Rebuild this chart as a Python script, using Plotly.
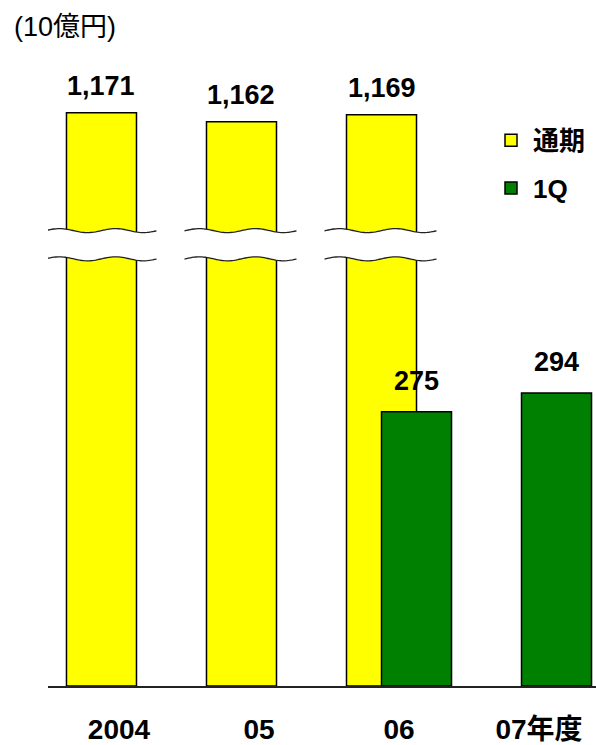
import numpy as np
import plotly.graph_objects as go

# ---- data ----
categories = ["2004", "05", "06", "07年度"]
cat_pos = [0, 1, 2, 3]
full_year = [1171, 1162, 1169, None]   # 通期 (10億円)
q1 = [None, None, 275, 294]            # 1Q (10億円)
series_names = ["通期", "1Q"]
unit_label = "(10億円)"

# ---- style / layout constants ----
YELLOW = "#FFFF00"
GREEN = "#008000"
BAR_W = 0.5
Y_OFF = -0.375
G_OFF = -0.125
FONT = "Liberation Sans, Arial, Noto Sans CJK JP, sans-serif"

W, H = 596, 745
ML, MR, MT, MB = 48, 0, 40, 57
PH = H - MT - MB  # plot height in px
BASE_PX = H - MB  # baseline pixel row


def paper_y(py):
    return (BASE_PX - py) / PH


# broken axis: lower part & upper part
low_top_px = 254
up_bot_px = 235
LOW_RANGE = [0, BASE_PX - low_top_px]
UP_START = 1049
UP_RANGE = [UP_START, UP_START + (up_bot_px - MT)]

fig = go.Figure()

yx = [c for c, v in zip(cat_pos, full_year) if v is not None]
yv = [v for v in full_year if v is not None]
gx = [c for c, v in zip(cat_pos, q1) if v is not None]
gv = [v for v in q1 if v is not None]

# yellow bars - lower part
fig.add_trace(go.Bar(x=yx, y=yv, width=BAR_W, offset=Y_OFF, xaxis="x", yaxis="y",
                     marker=dict(color=YELLOW, line=dict(color="black", width=1.5)),
                     name=series_names[0], legendgroup="a", showlegend=True,
                     hoverinfo="skip"))
# yellow bars - upper part
fig.add_trace(go.Bar(x=yx, y=yv, width=BAR_W, offset=Y_OFF, xaxis="x", yaxis="y2",
                     marker=dict(color=YELLOW, line=dict(color="black", width=1.5)),
                     name=series_names[0], legendgroup="a", showlegend=False,
                     hoverinfo="skip"))
# green bars
fig.add_trace(go.Bar(x=gx, y=gv, width=BAR_W, offset=G_OFF, xaxis="x", yaxis="y",
                     marker=dict(color=GREEN, line=dict(color="black", width=1.5)),
                     name=series_names[1], legendgroup="b", showlegend=True,
                     hoverinfo="skip"))

# value labels
annotations = []
for c, v in zip(yx, yv):
    annotations.append(dict(x=c + Y_OFF + BAR_W / 2, y=v, xref="x", yref="y2",
                            text=f"{v:,}", showarrow=False, yanchor="bottom",
                            yshift=10, font=dict(size=27, color="black", family=FONT,
                                                weight="bold")))
for c, v in zip(gx, gv):
    annotations.append(dict(x=c + G_OFF + BAR_W / 2, y=v, xref="x", yref="y",
                            text=f"{v:,}", showarrow=False, yanchor="bottom",
                            yshift=14, font=dict(size=27, color="black", family=FONT,
                                                 weight="bold")))

# break marks (wavy lines) around yellow bars
PX_PER_X = (W - ML - MR) / 3.914
period = 56 / PX_PER_X
amp = 2.0 / PH
up_c = paper_y(231.2)
lo_c = paper_y(259.5)
shapes = []
for c in yx:
    x_left = c + Y_OFF - 22 / PX_PER_X
    x_right = c + Y_OFF + BAR_W + 20 / PX_PER_X
    xs = np.linspace(x_left, x_right, 60)
    phase = 2 * np.pi * (xs - (x_left + 29 / PX_PER_X)) / period
    up = up_c - amp * np.sin(phase)
    lo = lo_c - amp * np.sin(phase)
    fill = "M " + " L ".join(f"{a:.5f},{b:.5f}" for a, b in zip(xs, up))
    fill += " L " + " L ".join(f"{a:.5f},{b:.5f}" for a, b in zip(xs[::-1], lo[::-1])) + " Z"
    shapes.append(dict(type="path", path=fill, xref="x", yref="paper",
                       fillcolor="white", line=dict(width=0), layer="above"))
    for arr in (up, lo):
        p = "M " + " L ".join(f"{a:.5f},{b:.5f}" for a, b in zip(xs, arr))
        shapes.append(dict(type="path", path=p, xref="x", yref="paper",
                           line=dict(color="#222222", width=1.3), layer="above"))

fig.update_layout(
    width=W, height=H,
    margin=dict(l=ML, r=MR, t=MT, b=MB, pad=0),
    paper_bgcolor="white", plot_bgcolor="white",
    barmode="overlay",
    font=dict(family=FONT, color="black"),
    title=dict(text=unit_label, x=14 / W, xanchor="left", xref="container",
               y=1 - 27 / H, yanchor="middle", yref="container",
               font=dict(size=27, family=FONT, color="black")),
    xaxis=dict(range=[-0.507, 3.407], tickvals=cat_pos, ticktext=categories,
               showline=True, linecolor="#222222", linewidth=1.5, showgrid=False,
               zeroline=False, ticks="", ticklabelstandoff=18,
               tickfont=dict(size=28, family=FONT, color="black", weight="bold"),
               anchor="y", fixedrange=True),
    yaxis=dict(domain=[0, paper_y(low_top_px)], range=LOW_RANGE, visible=False,
               showgrid=False, zeroline=False, anchor="x"),
    yaxis2=dict(domain=[paper_y(up_bot_px), 1], range=UP_RANGE, visible=False,
                showgrid=False, zeroline=False, anchor="x"),
    legend=dict(x=(489 - ML) / (W - ML - MR), xanchor="left",
                y=paper_y(117), yanchor="top", bgcolor="rgba(0,0,0,0)",
                font=dict(size=26, family=FONT, color="black", weight="bold"),
                tracegroupgap=11, traceorder="grouped", itemwidth=34),
    showlegend=True,
    annotations=annotations,
    shapes=shapes,
)

fig.write_html("out.html")
